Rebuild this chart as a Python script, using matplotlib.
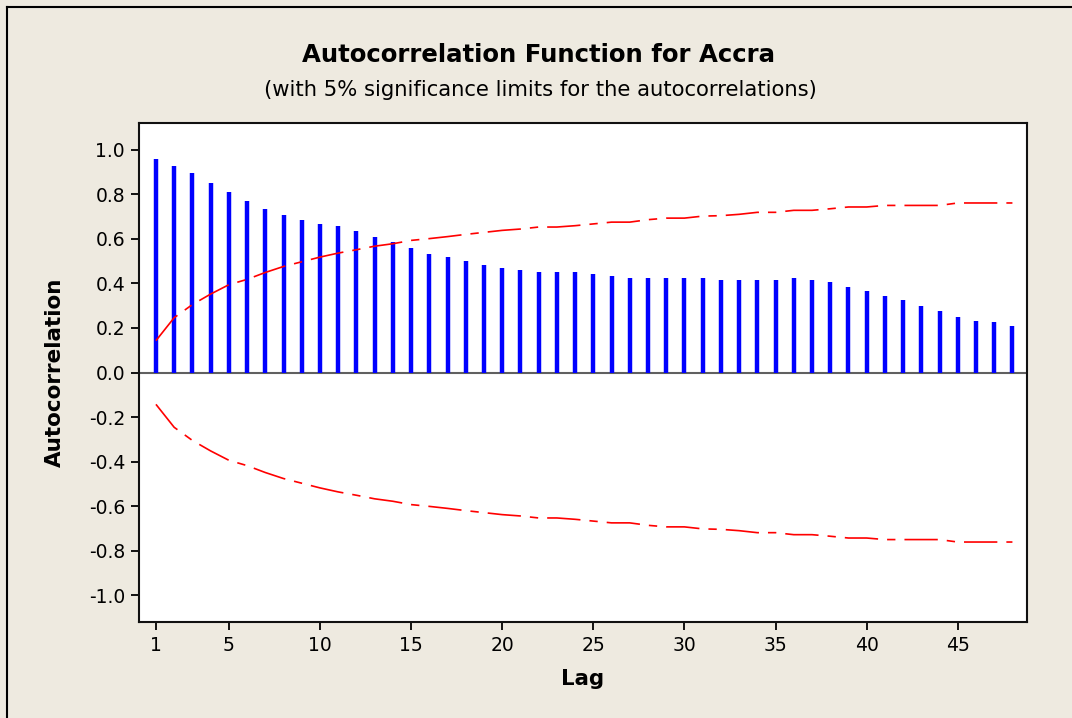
import matplotlib
matplotlib.use("Agg")
import matplotlib.pyplot as plt
from matplotlib.lines import Line2D

lags = list(range(1, 49))
acf = [0.960, 0.927, 0.894, 0.852, 0.810, 0.768, 0.735, 0.709, 0.685, 0.668,
       0.659, 0.634, 0.610, 0.584, 0.559, 0.533, 0.517, 0.500, 0.484, 0.467,
       0.458, 0.449, 0.449, 0.449, 0.442, 0.434, 0.425, 0.425, 0.425, 0.425,
       0.425, 0.417, 0.417, 0.417, 0.417, 0.425, 0.417, 0.408, 0.384, 0.367,
       0.342, 0.324, 0.300, 0.274, 0.249, 0.232, 0.225, 0.207]
sig_limit = [0.143, 0.246, 0.305, 0.352, 0.394, 0.418, 0.449, 0.476, 0.497, 0.518,
             0.536, 0.551, 0.567, 0.578, 0.593, 0.601, 0.610, 0.620, 0.629, 0.638,
             0.644, 0.653, 0.653, 0.659, 0.667, 0.675, 0.675, 0.686, 0.693, 0.693,
             0.702, 0.704, 0.710, 0.719, 0.719, 0.728, 0.728, 0.735, 0.743, 0.743,
             0.750, 0.750, 0.750, 0.750, 0.761, 0.761, 0.761, 0.761]
xticks = [1, 5, 10, 15, 20, 25, 30, 35, 40, 45]
yticks = [-1.0, -0.8, -0.6, -0.4, -0.2, 0.0, 0.2, 0.4, 0.6, 0.8, 1.0]

plt.rcParams['font.family'] = ['DejaVu Sans']
plt.rcParams['lines.scale_dashes'] = False

bg = '#EEEAE0'
fig = plt.figure(figsize=(10.72, 7.18), dpi=100, facecolor=bg)
ax = fig.add_axes([139/1072, 1-622/718, (1027-139)/1072, (622-123)/718])
ax.set_facecolor('white')

ax.axhline(0, color='#606060', lw=1.5, zorder=1)
ax.vlines(lags, 0, acf, colors='#0000FF', lw=3.2, zorder=2)
dash = (0, (24, 6.5, 6, 6.5))
ax.plot(lags, sig_limit, color='#FF0000', lw=1.2, linestyle=dash, zorder=3)
ax.plot(lags, [-v for v in sig_limit], color='#FF0000', lw=1.2, linestyle=dash, zorder=3)

ax.set_xlim(0.07, 48.8)
ax.set_ylim(-1.12, 1.12)
ax.set_xticks(xticks)
ax.set_xticklabels([str(t) for t in xticks])
ax.set_yticks(yticks)
ax.set_yticklabels([f"{t:.1f}" for t in yticks])
ax.tick_params(direction='out', length=6, width=1.3, labelsize=13.5, colors='black', pad=4)
for s in ax.spines.values():
    s.set_linewidth(1.5)
    s.set_color('#111111')

ax.set_xlabel('Lag', fontsize=15.3, fontweight='bold', labelpad=10)
ax.set_ylabel('Autocorrelation', fontsize=15.5, fontweight='bold', labelpad=17)

fig.text(539/1072, 1-55/718, 'Autocorrelation Function for Accra', ha='center', va='center',
         fontsize=17.6, fontweight='bold')
fig.text(540/1072, 1-90/718, '(with 5% significance limits for the autocorrelations)',
         ha='center', va='center', fontsize=15.2)

# outer frame (left and top edges visible)
fig.add_artist(Line2D([7/1072, 7/1072], [0, 1-7/718], transform=fig.transFigure, color='black', lw=1.5))
fig.add_artist(Line2D([7/1072, 1], [1-7/718, 1-7/718], transform=fig.transFigure, color='black', lw=1.5))

fig.savefig('out.png', dpi=100, facecolor=bg)
